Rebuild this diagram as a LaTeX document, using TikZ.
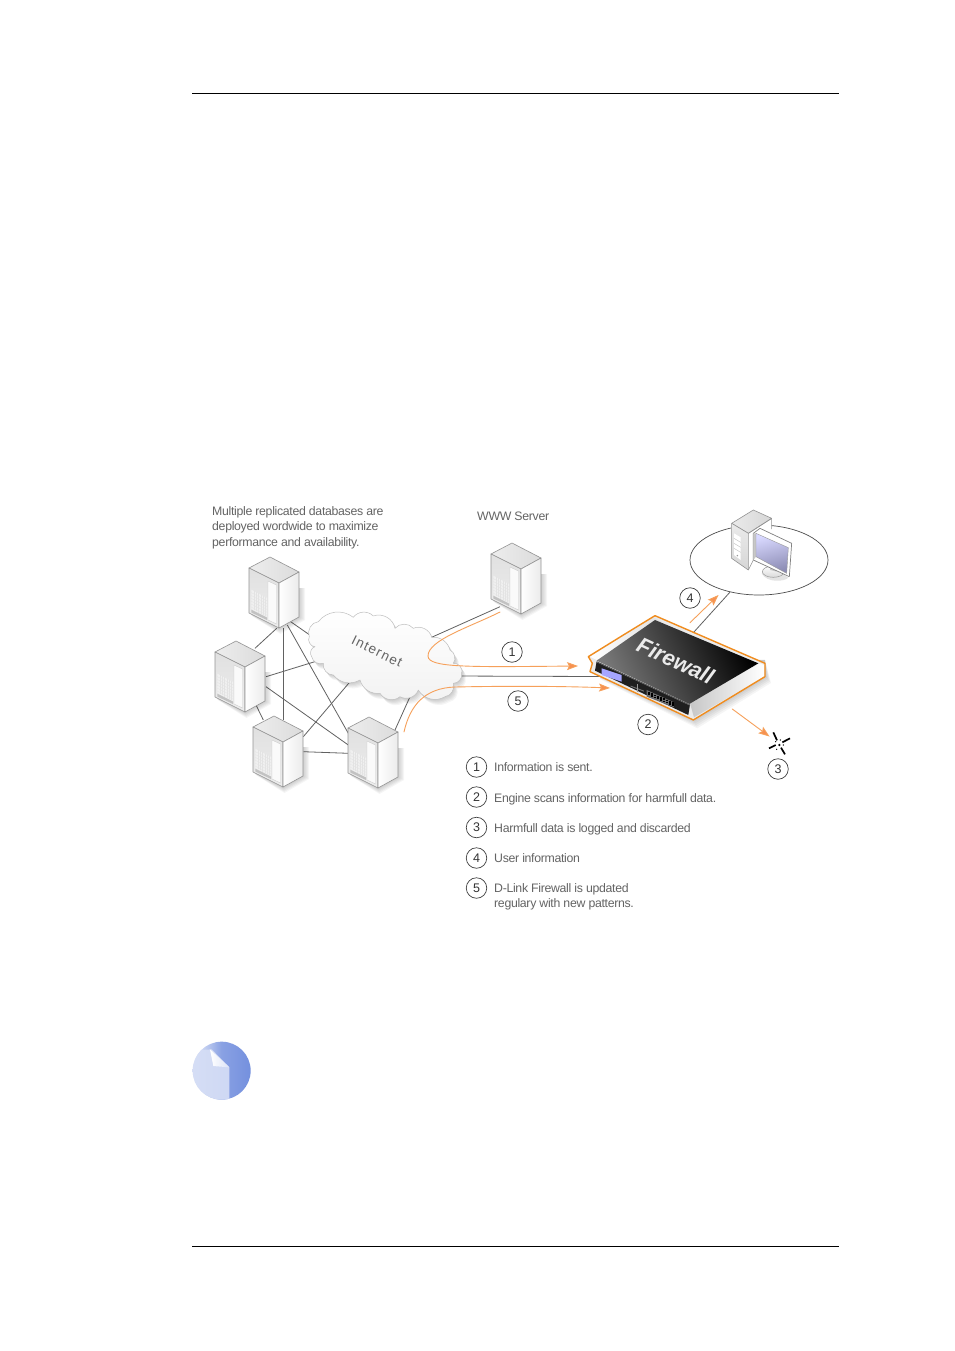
\documentclass[tikz,border=0pt]{standalone}
\usepackage{fontspec}
\setmainfont{Liberation Sans}
\newfontfamily\labfont[LetterSpace=-2.6]{Liberation Sans}
\newfontfamily\netfont[LetterSpace=9]{Liberation Sans}
\usetikzlibrary{arrows.meta,shapes.geometric,calc}
\definecolor{fworange}{RGB}{240,140,30}
\definecolor{arroworange}{RGB}{246,160,90}
\definecolor{txtgray}{RGB}{100,100,100}
\definecolor{noteblue}{RGB}{116,144,222}
\newcommand{\cloudpath}{(309.3,636.7) to[bend left=55] (318.3,621.7) to[bend left=45] (353.3,617.3) to[bend left=50] (373.3,616) to[bend left=50] (395,628.3) to[bend left=50] (413.3,628.3) to[bend left=50] (431.7,637.3) to[bend left=40] (450,650) to[bend left=50] (453.3,663.3) to[bend left=60] (461.7,673.3) to[bend left=50] (453.3,683.3) to[bend left=50] (445,696.7) to[bend left=45] (418.3,690) to[bend left=50] (400,696.7) to[bend left=50] (380,693.3) to[bend left=40] (360,680) to[bend left=40] (333.3,675) to[bend left=50] (323.3,663.3) to[bend left=50] (311.7,656.7) to[bend left=60] (315,646.7) to[bend left=60] (309.3,636.7)}
\tikzset{
  wire/.style={draw=black!62,line width=0.8pt},
  flow/.style={draw=arroworange,line width=0.9pt,line cap=round},
  flowtip/.style={-{Stealth[length=11pt,width=8pt,inset=2pt,fill=arroworange!90!red]}},
  label/.style={font=\labfont\fontsize{12.3}{15.5}\selectfont,text=txtgray,inner sep=0pt,anchor=base west},
  multilabel/.style={font=\labfont\fontsize{12.3}{15.5}\selectfont,text=txtgray,inner sep=0pt,anchor=north west,align=left},
  numcircle/.style={circle,draw=black!75,line width=0.7pt,minimum size=20.5pt,inner sep=0pt,font=\fontsize{12.5}{14}\selectfont,text=black!80},
  srvedge/.style={draw=black!42,line width=0.6pt,line join=round},
  serverpic/.pic={
    \foreach \d in {1,2,3,4,5}{
      \fill[black,opacity=0.04] (0+\d*.6,45+\d*.6) -- (30+\d*.3,60+\d*1.2) -- (50+\d*1.2,49+\d*.6) -- (50+\d*1.2,20) -- (0,20) -- cycle;
    }
    \shade[srvedge,left color=black!7,right color=black!14] (0,0) -- (21,-11) -- (50,4) -- (30,15) -- cycle;
    \shade[srvedge,top color=black!12,bottom color=black!7] (0,0) -- (30,15) -- (30,60) -- (0,45) -- cycle;
    \shade[srvedge,left color=white,right color=black!8] (30,15) -- (50,4) -- (50,49) -- (30,60) -- cycle;
    \fill[black!6] (2.3,21.7) -- (18,30) -- (18,49) -- (2.3,41) -- cycle;
    \foreach \t in {0.15,0.3,0.45,0.6,0.75,0.9}{
      \draw[black!11,line width=0.3pt] ($(2.3,21.7)!\t!(2.3,41)$) -- ($(18,30)!\t!(18,49)$);
      \draw[black!11,line width=0.3pt] ($(2.3,21.7)!\t!(18,30)$) -- ($(2.3,41)!\t!(18,49)$);
    }
    \fill[black!24] (2.3,41.7) -- (18,49.5) -- (18,52) -- (2.3,44.5) -- cycle;
    \draw[black!20,line width=0.4pt,fill=black!2] (19,13) -- (27.5,17) -- (27.5,56) -- (19,52) -- cycle;
  }
}
\begin{document}
\begin{tikzpicture}[x=1pt,y=-1pt]
\useasboundingbox (0,0) rectangle (954,1351);
\fill[white] (0,0) rectangle (954,1351);

% rules
\coordinate (ruleTL) at (192,93.5);
\coordinate (ruleTR) at (839,93.5);
\coordinate (ruleBL) at (192,1246.5);
\coordinate (ruleBR) at (839,1246.5);
\draw[black,line width=0.7pt] (ruleTL) -- (ruleTR);
\draw[black,line width=0.7pt] (ruleBL) -- (ruleBR);

% anchors
\coordinate (s1) at (274,592.5);
\coordinate (s2) at (240,676.5);
\coordinate (s3) at (278,751.5);
\coordinate (s4) at (373,752.5);
\coordinate (www) at (516,578.5);
\coordinate (cloud) at (385,656);
\coordinate (fw) at (675,668);

% connectors under the shapes
\draw[wire] ([shift={(2.7,35.8)}]s1) -- ([shift={(15,-28.2)}]s2);
\draw[wire] ([shift={(9.3,35.5)}]s1) -- ([shift={(5.3,-31.5)}]s3);
\draw[wire] ([shift={(13.3,32.5)}]s1) -- ([shift={(-24.7,-19.2)}]s4);
\draw[wire] ([shift={(16.7,29.2)}]s1) -- ([shift={(-60,-10.4)}]cloud);
\draw[wire] ([shift={(26,0.2)}]s2) -- ([shift={(-55,1)}]cloud);
\draw[wire] ([shift={(26,10.2)}]s2) -- ([shift={(-24.7,-7.5)}]s4);
\draw[wire] ([shift={(16,28.5)}]s2) -- ([shift={(-14.7,-31.5)}]s3);
\draw[wire] ([shift={(25.3,.2)}]s3) -- ([shift={(-24.7,.8)}]s4);
\draw[wire] ([shift={(25.3,-14.8)}]s3) -- ([shift={(-25,14)}]cloud);
\draw[wire] ([shift={(22,-22.5)}]s4) -- ([shift={(30,29.6)}]cloud);
\draw[wire] ([shift={(35,-13.5)}]cloud) -- ([shift={(-16,28.2)}]www);
\draw[wire] ([shift={(65,20)}]cloud) -- ([shift={(-75,8.5)}]fw);

% cloud
\foreach \d in {1,2,3,4,5}{
  \fill[black,opacity=0.04,shift={(\d*.8,\d*1.1)}] \cloudpath -- cycle;
}
\shade[draw=black!25,line width=0.5pt,line join=round,top color=white,bottom color=black!5] \cloudpath -- cycle;
\node[font=\netfont\fontsize{13.5}{15}\selectfont,text=txtgray,rotate=-26,inner sep=0pt] (internet) at (377,651.5) {Internet};

% servers
\pic at (249,568) {serverpic};
\pic at (215,652) {serverpic};
\pic at (253,727) {serverpic};
\pic at (348,728) {serverpic};
\pic at (491,554) {serverpic};

% PC in ellipse
\node[ellipse,draw=black!70,line width=0.7pt,minimum width=138pt,minimum height=70pt,inner sep=0pt] (pc) at (759,560) {};
\draw[wire] ([shift={(18.3,-35.3)}]fw) -- ([shift={(-24,33.5)}]pc);
\begin{scope}[shift={(720,505)},x=0.3333pt,y=-0.3333pt]
  % tower
  \fill[white] (35,55) -- (100,15) -- (155,40) -- (155,80) -- (120,70) -- (100,85) -- (100,165) -- (85,195) -- (35,160) -- cycle;
  \shade[srvedge,left color=black!8,right color=black!16] (35,55) -- (100,15) -- (155,40) -- (85,85) -- cycle;
  \shade[srvedge,top color=black!8,bottom color=black!16] (35,55) -- (85,85) -- (85,195) -- (35,160) -- cycle;
  \draw[srvedge] (85,85) -- (155,40) -- (155,72);
  \draw[srvedge] (100,165) -- (85,195);
  \fill[white] (42,85) -- (62,97) -- (62,165) -- (42,150) -- cycle;
  \draw[black!25,line width=.4pt] (42,100) -- (62,112) (42,115) -- (62,127) (42,130) -- (62,142);
  \fill[black!40] (52,152) circle (2.5);
  % stand
  \fill[black!18,opacity=.6] (125,205) .. controls (140,235) and (195,230) .. (205,218) -- (170,195) -- cycle;
  \shade[draw=black!40,line width=.5pt,top color=white,bottom color=black!15] (160,200) ellipse (33 and 17);
  \fill[black!22] (150,175) -- (170,185) -- (170,200) -- (150,195) -- cycle;
  % monitor
  \fill[white,draw=black!50,line width=0.7pt,line join=round] (100,85) -- (120,70) -- (215,115) -- (208,215) -- (100,165) -- cycle;
  \fill[black!22] (100,85) -- (108,85) -- (108,155) -- (100,165) -- cycle;
  \shade[draw=black!40,line width=.4pt,left color=white!85!blue,right color=blue!35!black!45!white,shading angle=15] (108,85) -- (205,128) -- (200,205) -- (108,155) -- cycle;
\end{scope}

% firewall
\begin{scope}[shift={(500,500)},x=0.3333pt,y=-0.3333pt]
  \foreach \d in {1,2,3,4,5,6}{
    \fill[black,opacity=0.04] (300,525+\d*2) -- (580+\d*2,655+\d*5) -- (795+\d*3,525+\d*4) -- (795,480) -- (300,480) -- cycle;
  }
  \fill[black!8] (265,470) -- (465,347) -- (795,490) -- (795,530) -- (580,660) -- (270,515) -- (277,490) -- cycle;
  \shade[left color=white,right color=black!12] (270,470) -- (460,352) -- (485,365) -- (290,480) -- cycle;
  \shade[left color=black!22,right color=white] (570,610) -- (780,490) -- (792,495) -- (792,530) -- (582,652) -- cycle;
  \shade[left color=black!52,right color=black,shading angle=115] (290,482) -- (465,360) -- (775,490) -- (568,612) -- cycle;
  \fill[black!88] (290,484) -- (570,614) -- (565,645) -- (285,512) -- cycle;
  \draw[black!55,line width=0.5pt] (290,486) -- (570,616);
  \fill[blue!35!white] (305,505) -- (365,525) -- (365,545) -- (305,525) -- cycle;
  \fill[black!55] (392,557) -- (432,572) -- (432,575) -- (392,560) -- cycle;
  \fill[black!40] (410,551) rectangle (414,575);
  \fill[black!58] (440,570) -- (522,607) -- (522,622) -- (440,590) -- cycle;
  \foreach \x [evaluate=\x as \y using 576+(\x-445)*0.43] in {445,454,...,517}{
    \fill[black] (\x,\y) rectangle ++(5,5);
    \fill[black] (\x-1,\y+6.5) rectangle ++(5,4);
  }
  \draw[fworange,line width=1.4pt,line join=round] (265,470) -- (375,402) -- (465,347) -- (795,490) -- (795,530) -- (580,660) -- (270,515) -- (277,490) -- cycle;
  \node[font=\bfseries\itshape\fontsize{22}{24}\selectfont,text=white!92!black,rotate=-25,inner sep=0pt] (fwtext) at (527,482) {Firewall};
\end{scope}

% orange arrows
\coordinate (f1a) at (500,612);
\coordinate (f1b) at (578,666);
\coordinate (f5a) at (404,732);
\coordinate (f5b) at (610,688);
\coordinate (f4a) at (690,622.7);
\coordinate (f4b) at (718.5,595);
\coordinate (f3a) at (732.3,709);
\coordinate (f3b) at (769.5,736.5);
\draw[flow,flowtip] (f1a) .. controls (470,627) and (428,640) .. (428,656) .. controls (428,668) and (470,667) .. (f1b);
\draw[flow,flowtip] (f5a) .. controls (410,705) and (425,688) .. (455,687) .. controls (500,686) and (560,686) .. (f5b);
\draw[flow,flowtip] (f4a) -- (f4b);
\draw[flow,flowtip] (f3a) -- (f3b);

% discard burst
\begin{scope}[shift={(755,725)},x=0.3333pt,y=-0.3333pt]
  \draw[black,line width=1.7pt] (55,22) -- (66,46) (105,40) -- (82,52) (42,70) -- (62,60) (90,88) -- (78,68);
  \fill[black] (73,60) circle (4) (85,60) circle (2) (65,73) circle (2) (62,50) circle (2) (76,45) circle (2);
\end{scope}

% numbered circles on diagram
\node[numcircle] (n1) at (512,652) {1};
\node[numcircle] (n5) at (518,701) {5};
\node[numcircle] (n4) at (690,598) {4};
\node[numcircle] (n2) at (648,724.5) {2};
\node[numcircle] (n3) at (778,769) {3};

% legend
\node[numcircle] (l1) at (476.5,767) {1};
\node[numcircle] (l2) at (476.5,797) {2};
\node[numcircle] (l3) at (476.5,827.5) {3};
\node[numcircle] (l4) at (476.5,858) {4};
\node[numcircle] (l5) at (476.5,888) {5};
\node[label] (t1) at (494,771.5) {Information is sent.};
\node[label] (t2) at (494,802) {Engine scans information for harmfull data.};
\node[label] (t3) at (494,832.5) {Harmfull data is logged and discarded};
\node[label] (t4) at (494,862.5) {User information};
\node[multilabel] (t5) at (494,883) {D-Link Firewall is updated\\regulary with new patterns.};

\node[multilabel] (dbtext) at (212,506) {Multiple replicated databases are\\deployed wordwide to maximize\\performance and availability.};
\node[label] (wwwtext) at (477,520) {WWW Server};

% note icon
\begin{scope}[shift={(180,1030)},x=0.3333pt,y=-0.3333pt]
  \coordinate (notec) at (125,122);
  \shade[left color=noteblue!15!white,right color=noteblue,middle color=noteblue!85] (notec) circle (87);
  \begin{scope}
    \clip (notec) circle (87);
    \shade[left color=white!70!noteblue,middle color=white,right color=noteblue!35!white] (30,62) -- (95,58) -- (148,112) -- (148,215) -- (30,215) -- cycle;
    \shade[left color=white,right color=noteblue!25!white] (90,58) -- (100,108) -- (148,112) -- cycle;
  \end{scope}
\end{scope}
\end{tikzpicture}
\end{document}
